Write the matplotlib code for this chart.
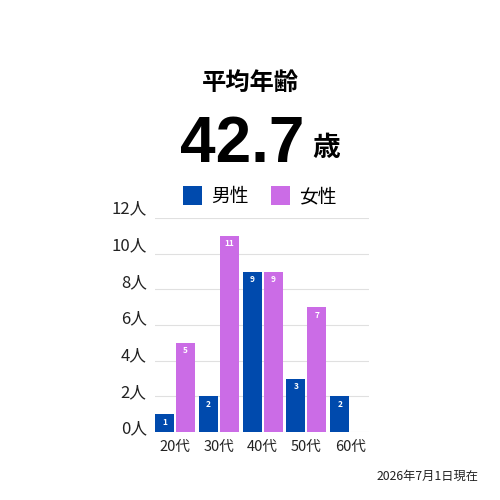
import numpy as np
import matplotlib.pyplot as plt
from matplotlib.transforms import ScaledTranslation

plt.rcParams['font.family'] = ['Noto Sans CJK JP', 'DejaVu Sans']

# データ
categories = ['20代', '30代', '40代', '50代', '60代']
male = [1, 2, 9, 3, 2]
female = [5, 11, 9, 7, 0]
y_ticks = [0, 2, 4, 6, 8, 10, 12]
y_labels = ['0人', '2人', '4人', '6人', '8人', '10人', '12人']

male_color = '#004AAD'
female_color = '#CB6CE6'

fig = plt.figure(figsize=(5, 5), dpi=100)
ax = fig.add_axes([0.31, 0.136, 0.428, 0.428])

x = np.arange(len(categories))
w = 0.435
off = 0.24
bm = ax.bar(x - off, male, w, color=male_color, label='男性', zorder=3)
bf = ax.bar(x + off, female, w, color=female_color, label='女性', zorder=3)

# 棒の中の数値
for bars, vals in ((bm, male), (bf, female)):
    for b, v in zip(bars, vals):
        if v > 0:
            ax.text(b.get_x() + b.get_width() / 2, v - 0.2, str(v),
                    ha='center', va='top', color='white', fontsize=6,
                    fontweight='bold', zorder=4)

ax.set_xlim(-0.46, 4.43)
ax.set_ylim(0, 12)
ax.set_yticks(y_ticks)
ax.set_yticklabels(y_labels, fontsize=12, color='#222222')
ax.set_xticks(x)
ax.set_xticklabels(categories, fontsize=10.5, color='#222222')
ax.tick_params(length=0)
ax.tick_params(axis='y', pad=6)
ax.tick_params(axis='x', pad=6)
# 目盛りラベルは線より少し上
for v, lab in zip(y_ticks, ax.get_yticklabels()):
    dy = (5 + v * 0.5) / 100
    lab.set_transform(lab.get_transform() + ScaledTranslation(0, dy, fig.dpi_scale_trans))
ax.grid(axis='y', color='#e0e0e0', linewidth=0.8, zorder=0)
for s in ax.spines.values():
    s.set_visible(False)

ax.legend(loc='lower center', bbox_to_anchor=(0.49, 0.972), ncol=2, frameon=False,
          fontsize=13.5, handlelength=1.0, handleheight=1.2, columnspacing=1.2,
          handletextpad=0.5)

# タイトル
fig.text(0.5, 0.835, '平均年齢', ha='center', va='center', fontsize=17.5,
         fontweight='bold')
fig.text(0.484, 0.71, '42.7', ha='center', va='center', fontsize=46,
         fontweight='bold', family=['Liberation Sans'])
fig.text(0.652, 0.704, '歳', ha='center', va='center', fontsize=20,
         fontweight='bold')

fig.text(0.957, 0.048, '2026年7月1日現在', ha='right', va='center', fontsize=8.8,
         color='#222222')

fig.savefig('out.png', dpi=100, facecolor='white')
